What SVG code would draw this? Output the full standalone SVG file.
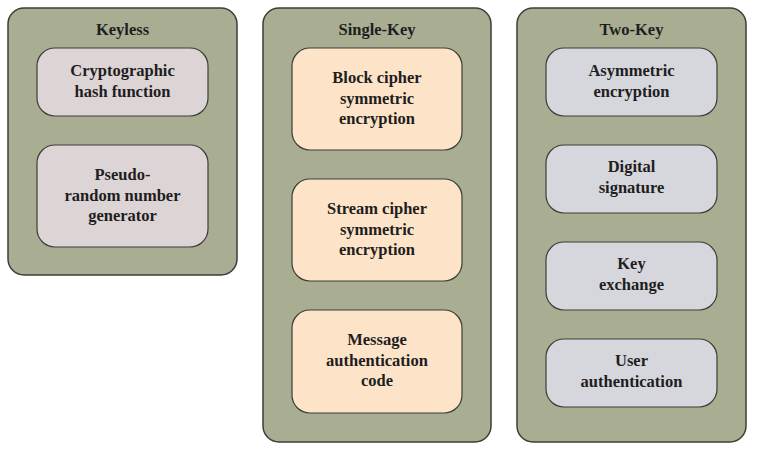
<svg xmlns="http://www.w3.org/2000/svg" width="766" height="449" viewBox="0 0 766 449">
<style>
.outer{fill:#a9ae92;stroke:#3c3c38;stroke-width:1.5}
.k{fill:#ddd4d6;stroke:#3c3c38;stroke-width:1.2}
.s{fill:#fde4c8;stroke:#3c3c38;stroke-width:1.2}
.t{fill:#d6d7dc;stroke:#3c3c38;stroke-width:1.2}
text{font-family:"Liberation Serif","Times New Roman",serif;font-weight:bold;font-size:16.5px;fill:#1e1e1e;text-anchor:middle}
</style>
<rect width="766" height="449" fill="#ffffff"/>
<g id="keyless">
<rect class="outer" x="8" y="8" width="229" height="267" rx="16"/>
<text x="122.5" y="35">Keyless</text>
</g>
<g id="keyless-hash">
<rect class="k" x="37" y="48" width="171" height="68" rx="18"/>
<text x="122.5" y="76">Cryptographic</text>
<text x="122.5" y="97">hash function</text>
</g>
<g id="keyless-prng">
<rect class="k" x="37" y="145" width="171" height="102" rx="18"/>
<text x="122.5" y="180">Pseudo-</text>
<text x="122.5" y="201">random number</text>
<text x="122.5" y="221">generator</text>
</g>
<g id="single">
<rect class="outer" x="263" y="8" width="228" height="434" rx="16"/>
<text x="377" y="35">Single-Key</text>
</g>
<g id="single-block">
<rect class="s" x="292" y="48" width="170" height="102" rx="18"/>
<text x="377" y="83">Block cipher</text>
<text x="377" y="104">symmetric</text>
<text x="377" y="124">encryption</text>
</g>
<g id="single-stream">
<rect class="s" x="292" y="179" width="170" height="102" rx="18"/>
<text x="377" y="214">Stream cipher</text>
<text x="377" y="235">symmetric</text>
<text x="377" y="255">encryption</text>
</g>
<g id="single-mac">
<rect class="s" x="292" y="310" width="170" height="103" rx="18"/>
<text x="377" y="345">Message</text>
<text x="377" y="366">authentication</text>
<text x="377" y="386">code</text>
</g>
<g id="two">
<rect class="outer" x="517" y="8" width="229" height="434" rx="16"/>
<text x="631.5" y="35">Two-Key</text>
</g>
<g id="two-asym">
<rect class="t" x="546" y="48" width="171" height="68" rx="18"/>
<text x="631.5" y="76">Asymmetric</text>
<text x="631.5" y="97">encryption</text>
</g>
<g id="two-sig">
<rect class="t" x="546" y="145" width="171" height="68" rx="18"/>
<text x="631.5" y="172">Digital</text>
<text x="631.5" y="193">signature</text>
</g>
<g id="two-kex">
<rect class="t" x="546" y="242" width="171" height="68" rx="18"/>
<text x="631.5" y="269">Key</text>
<text x="631.5" y="290">exchange</text>
</g>
<g id="two-auth">
<rect class="t" x="546" y="339" width="171" height="68" rx="18"/>
<text x="631.5" y="366">User</text>
<text x="631.5" y="387">authentication</text>
</g>
<g id="connectors"></g>
</svg>
